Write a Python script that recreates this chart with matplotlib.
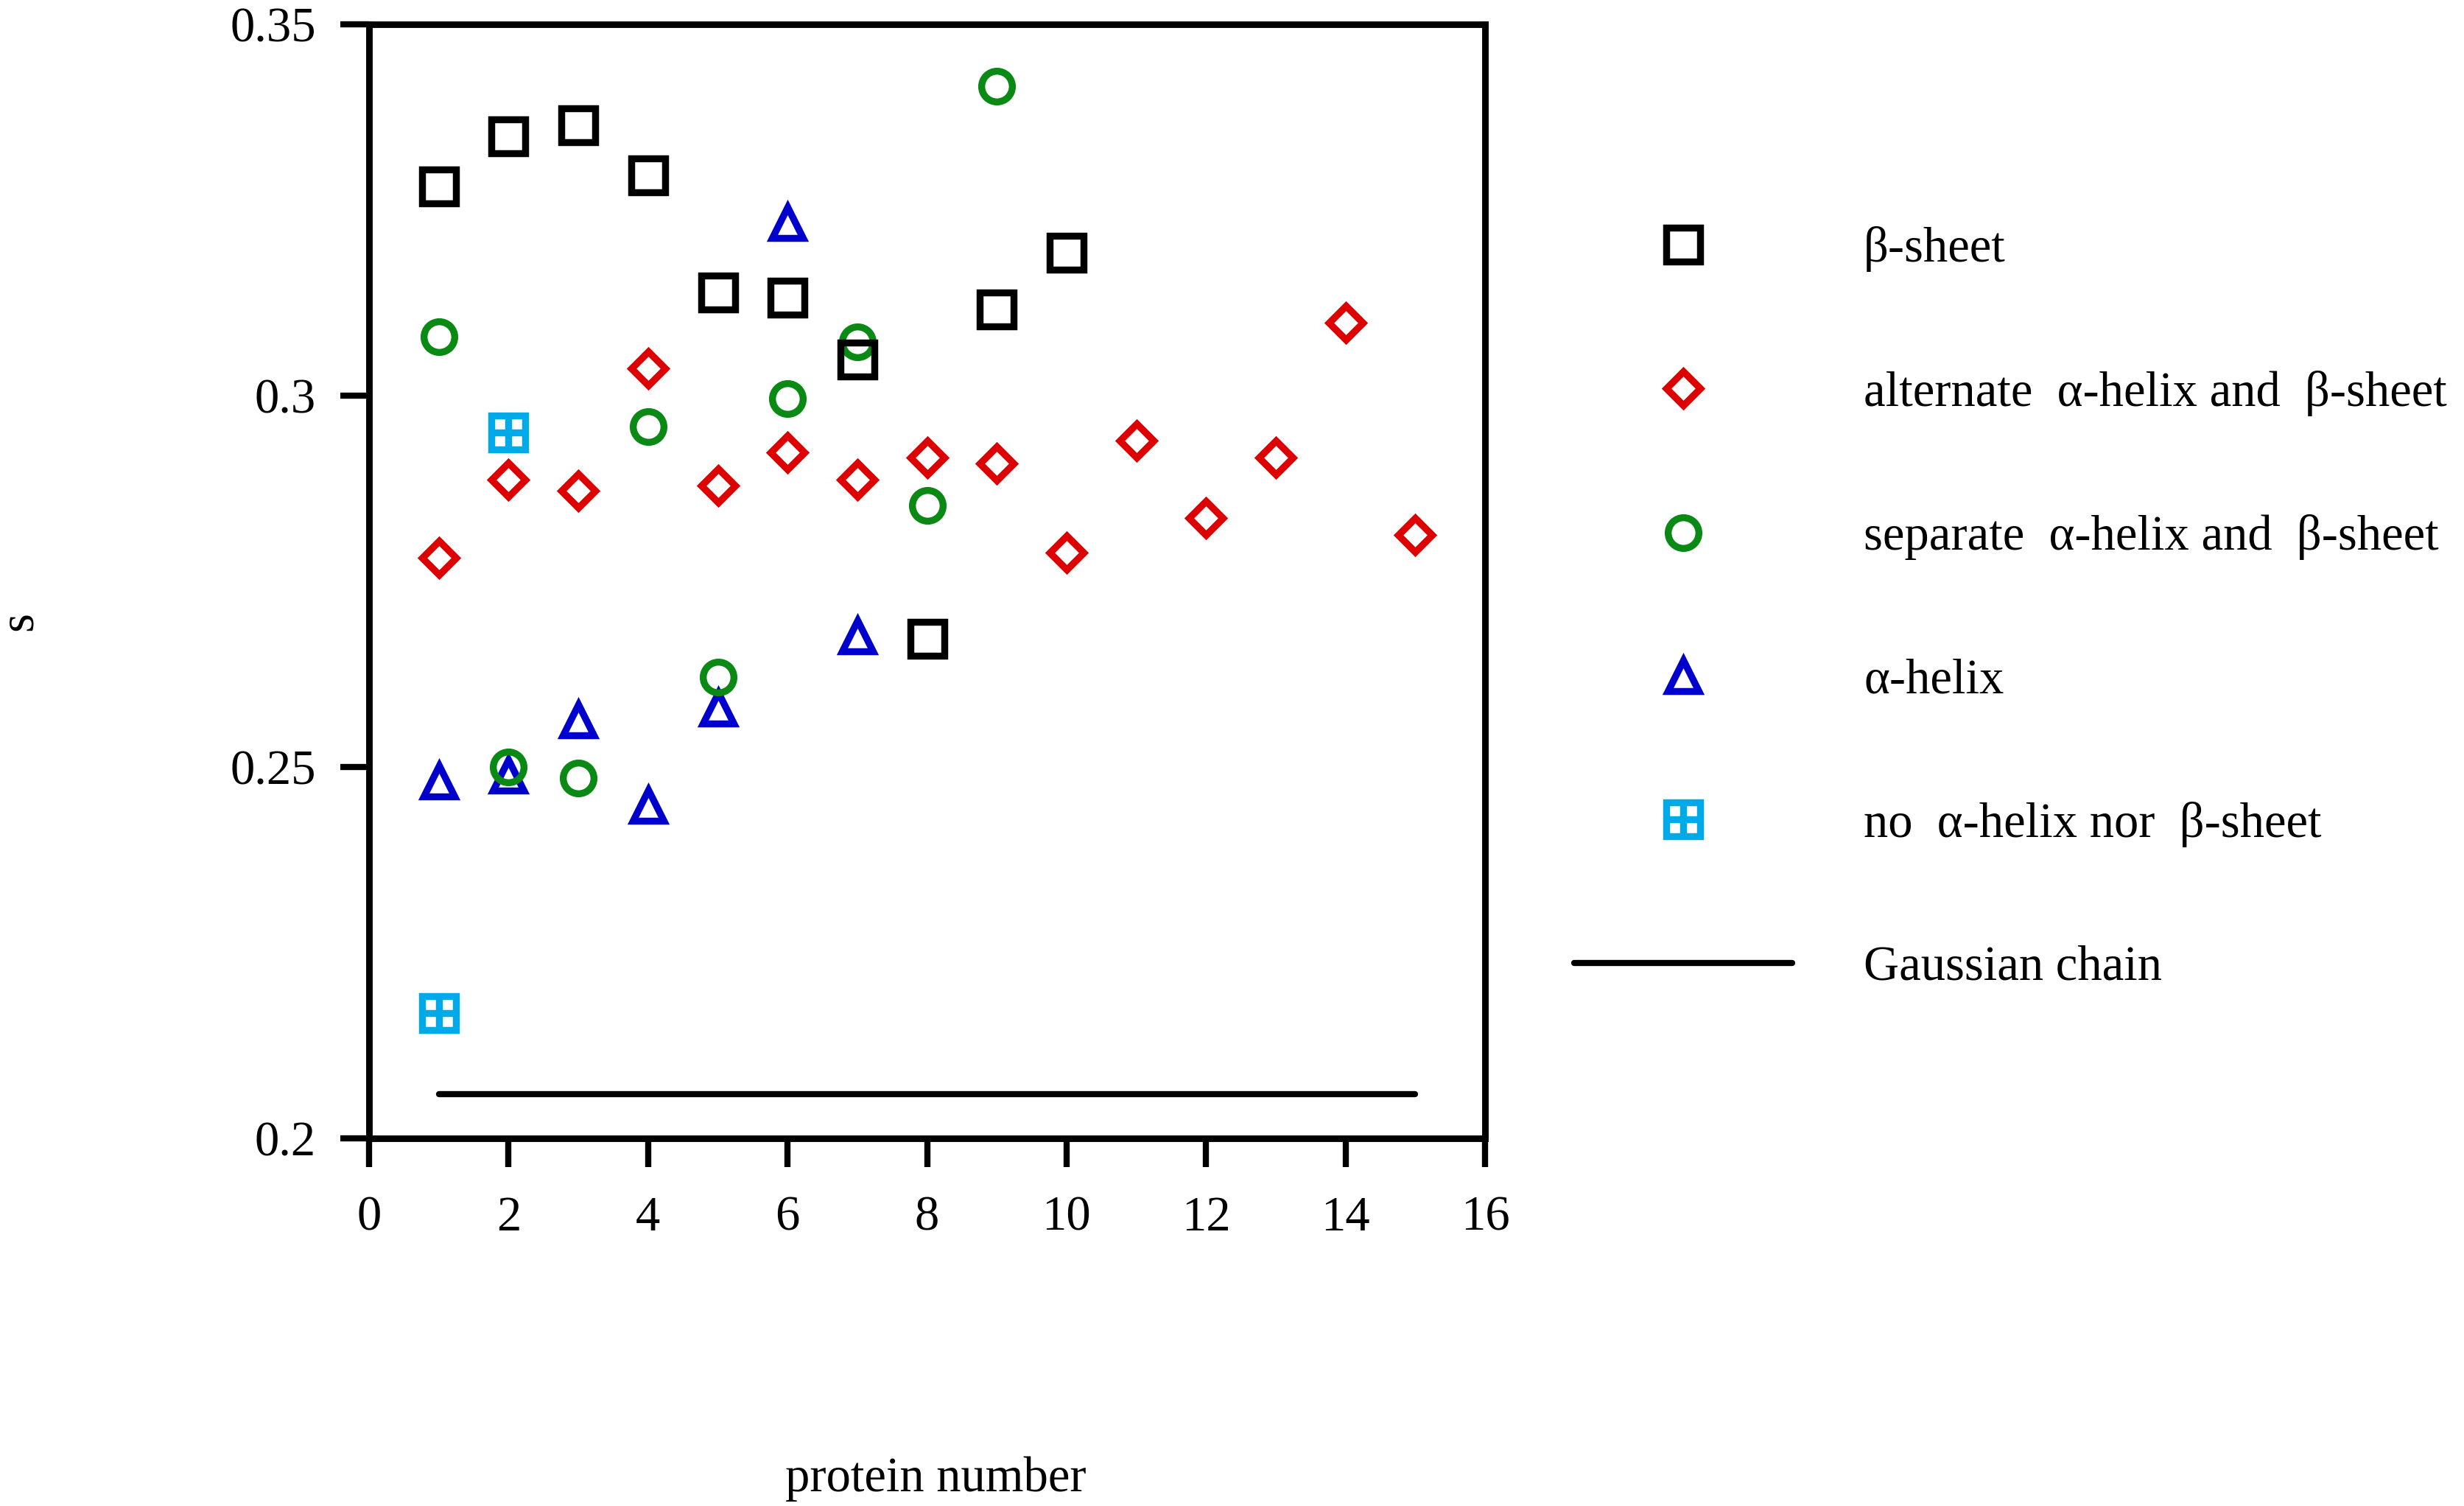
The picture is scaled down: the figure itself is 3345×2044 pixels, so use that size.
import matplotlib
matplotlib.use("Agg")
import matplotlib.pyplot as plt
from matplotlib.legend_handler import HandlerTuple

# ---- data ----
beta_x = [1, 2, 3, 4, 5, 6, 7, 8, 9, 10]
beta_s = [0.3282, 0.3349, 0.3364, 0.3297, 0.3139, 0.3132, 0.3049, 0.2673, 0.3116, 0.3192]

alt_x = [1, 2, 3, 4, 5, 6, 7, 8, 9, 10, 11, 12, 13, 14, 15]
alt_s = [0.2782, 0.2887, 0.2872, 0.3037, 0.2879, 0.2924, 0.2887, 0.2917,
         0.2909, 0.2789, 0.2939, 0.2835, 0.2917, 0.3098, 0.2812]

sep_x = [1, 2, 3, 4, 5, 6, 7, 8, 9]
sep_s = [0.3079, 0.2500, 0.2485, 0.2958, 0.2621, 0.2996, 0.3072, 0.2852, 0.3417]

alpha_x = [1, 2, 3, 4, 5, 6, 7]
alpha_s = [0.2481, 0.2489, 0.2563, 0.2448, 0.2579, 0.3233, 0.2677]

none_x = [1, 2]
none_s = [0.2169, 0.2950]

gauss_x = [1, 15]
gauss_s = [0.206, 0.206]

labels = ["\u03b2-sheet",
          "alternate  \u03b1-helix and  \u03b2-sheet",
          "separate  \u03b1-helix and  \u03b2-sheet",
          "\u03b1-helix",
          "no  \u03b1-helix nor  \u03b2-sheet",
          "Gaussian chain"]

# ---- style ----
plt.rcParams['font.family'] = ['Liberation Serif', 'DejaVu Serif']
plt.rcParams['font.size'] = 24

c_black = '#000000'
c_red = '#dd0000'
c_green = '#0a8a14'
c_blue = '#0000cc'
c_cyan = '#00aae8'
mew = 3.4

fig = plt.figure(figsize=(16.725, 10.22), dpi=200)
ax = fig.add_axes([0.1498, 0.2441, 0.4529, 0.7398])

# drawing order follows the overlaps seen in the original
h_alpha, = ax.plot(alpha_x, alpha_s, linestyle='none', marker='^', ms=15,
                   mfc='none', mec=c_blue, mew=mew)
h_sep, = ax.plot(sep_x, sep_s, linestyle='none', marker='o', ms=15,
                 mfc='none', mec=c_green, mew=mew)
h_beta, = ax.plot(beta_x, beta_s, linestyle='none', marker='s', ms=16.3,
                  mfc='none', mec=c_black, mew=mew)
h_alt, = ax.plot(alt_x, alt_s, linestyle='none', marker='D', ms=11.5,
                 mfc='none', mec=c_red, mew=mew)
h_none1, = ax.plot(none_x, none_s, linestyle='none', marker='s', ms=16.3,
                   mfc='none', mec=c_cyan, mew=mew)
h_none2, = ax.plot(none_x, none_s, linestyle='none', marker='+', ms=16.3,
                   mec=c_cyan, mew=mew)
h_gauss, = ax.plot(gauss_x, gauss_s, color='black', lw=3.0,
                   solid_capstyle='round')

ax.set_xlim(0, 16)
ax.set_ylim(0.2, 0.35)
ax.set_xticks(range(0, 17, 2))
ax.set_yticks([0.2, 0.25, 0.3, 0.35])
ax.set_yticklabels(['0.2', '0.25', '0.3', '0.35'])

for sp in ax.spines.values():
    sp.set_linewidth(3.2)
ax.tick_params(direction='out', length=14, width=3, labelsize=24,
               top=False, right=False)
ax.tick_params(axis='x', pad=14)
ax.tick_params(axis='y', pad=12)

ax.set_xlabel('protein number', fontsize=24)
ax.set_ylabel('s', fontsize=24)
ax.xaxis.set_label_coords(0.5076, -0.285)
ax.yaxis.set_label_coords(-0.293, 0.464)

fig.legend([h_beta, h_alt, h_sep, h_alpha, (h_none1, h_none2), h_gauss], labels,
           loc='upper left', bbox_to_anchor=(0.639, 0.8497), frameon=False,
           borderpad=0, borderaxespad=0, labelspacing=2.0, handlelength=4.44,
           handletextpad=1.45, fontsize=24,
           handler_map={tuple: HandlerTuple(ndivide=1)})

fig.savefig('out.png', dpi=200)
